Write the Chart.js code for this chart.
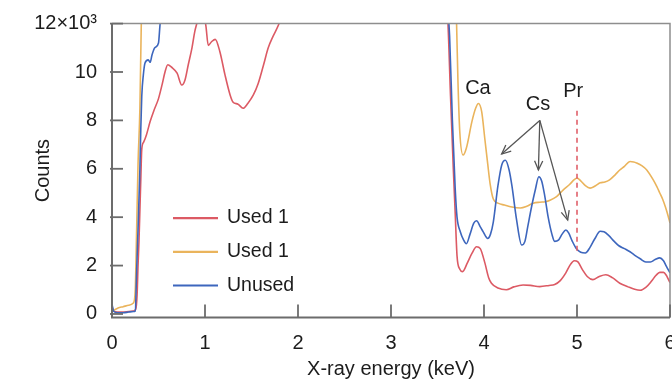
<!DOCTYPE html>
<html><head><meta charset="utf-8">
<script src="https://cdn.jsdelivr.net/npm/chart.js@4.4.1/dist/chart.umd.min.js"></script>
<style>html,body{margin:0;padding:0;background:#fff}#wrap{width:672px;height:385px;position:relative}</style>
</head><body><div id="wrap"><canvas id="c"></canvas></div>
<script>
// ---- data (x = X-ray energy in keV, y = counts in thousands) ----
const xTicks = [0, 1, 2, 3, 4, 5, 6];
const yTicks = [0, 2, 4, 6, 8, 10, 12];
const seriesLabels = ['Used 1', 'Used 1', 'Unused'];

const used1Red = [[0,0.3],[0.02,0.12],[0.06,0.08],[0.12,0.08],[0.18,0.1],[0.23,0.12],[0.255,0.2],[0.27,0.8],[0.28,2.0],[0.29,3.0],[0.30,4.3],[0.31,5.6],[0.32,6.8],[0.34,7.1],[0.37,7.4],[0.41,7.95],[0.45,8.4],[0.50,8.9],[0.54,9.5],[0.57,10.0],[0.60,10.3],[0.64,10.2],[0.70,9.95],[0.75,9.46],[0.785,9.67],[0.82,10.3],[0.86,11.0],[0.89,11.67],[0.915,12.05],[0.95,12.6],[0.98,12.5],[1.01,11.9],[1.035,11.1],[1.07,11.25],[1.11,11.35],[1.16,10.84],[1.215,9.88],[1.27,9.05],[1.30,8.76],[1.355,8.67],[1.41,8.5],[1.46,8.7],[1.52,9.05],[1.57,9.5],[1.63,10.3],[1.68,11.0],[1.73,11.46],[1.79,11.94],[1.85,12.6],[2.0,14],[2.5,16],[3.0,17],[3.4,16],[3.55,14],[3.61,12.2],[3.64,9],[3.67,6.0],[3.69,4.2],[3.71,2.4],[3.74,1.85],[3.77,1.75],[3.82,2.1],[3.87,2.5],[3.92,2.78],[3.96,2.7],[4.01,2.1],[4.05,1.5],[4.08,1.27],[4.15,1.07],[4.24,1.0],[4.32,1.12],[4.42,1.2],[4.50,1.18],[4.60,1.13],[4.70,1.18],[4.76,1.22],[4.82,1.38],[4.88,1.7],[4.93,2.05],[4.97,2.2],[5.01,2.15],[5.06,1.82],[5.11,1.55],[5.17,1.42],[5.24,1.55],[5.31,1.62],[5.38,1.5],[5.46,1.27],[5.55,1.12],[5.62,1.02],[5.68,0.98],[5.74,1.1],[5.80,1.35],[5.85,1.6],[5.89,1.72],[5.93,1.72],[5.96,1.6],[5.98,1.45],[6.0,1.3]];

const used1Orange = [[0,0.1],[0.02,0.15],[0.065,0.25],[0.12,0.3],[0.18,0.36],[0.23,0.45],[0.25,1.0],[0.265,3.5],[0.28,6.2],[0.30,8.5],[0.315,12.0],[0.33,14],[0.5,20],[1.0,24],[2.0,26],[3.0,24],[3.6,18],[3.69,13.5],[3.705,12],[3.72,9.6],[3.74,7.5],[3.775,6.57],[3.81,6.85],[3.87,7.95],[3.91,8.5],[3.94,8.7],[3.975,8.36],[4.01,7.2],[4.04,6.2],[4.065,5.4],[4.10,4.75],[4.15,4.58],[4.22,4.5],[4.30,4.42],[4.39,4.38],[4.46,4.45],[4.53,4.58],[4.60,4.62],[4.66,4.64],[4.71,4.7],[4.78,4.85],[4.85,5.12],[4.92,5.35],[4.97,5.55],[5.0,5.62],[5.04,5.5],[5.09,5.3],[5.14,5.2],[5.20,5.3],[5.25,5.42],[5.30,5.45],[5.35,5.54],[5.41,5.75],[5.46,5.95],[5.51,6.1],[5.57,6.3],[5.61,6.28],[5.64,6.24],[5.70,6.12],[5.75,5.95],[5.82,5.54],[5.86,5.25],[5.89,5.0],[5.92,4.75],[5.95,4.43],[5.98,4.05],[6.0,3.76]];

const unusedBlue = [[0,0.4],[0.02,0.1],[0.06,0.05],[0.12,0.05],[0.18,0.08],[0.23,0.1],[0.25,0.12],[0.265,1.8],[0.28,3.5],[0.30,6.0],[0.31,7.7],[0.32,9.0],[0.337,9.88],[0.355,10.37],[0.39,10.5],[0.41,10.4],[0.43,10.7],[0.46,11.0],[0.50,11.2],[0.516,11.94],[0.54,12.8],[0.6,14],[1.0,18],[2.0,20],[3.0,20],[3.5,16],[3.6,13],[3.63,11.5],[3.66,8],[3.69,5.2],[3.71,4.0],[3.745,3.4],[3.78,3.06],[3.81,2.9],[3.85,3.3],[3.89,3.75],[3.92,3.85],[3.96,3.6],[3.99,3.4],[4.04,3.12],[4.07,3.3],[4.10,3.8],[4.15,5.3],[4.19,6.15],[4.23,6.35],[4.27,5.95],[4.30,5.3],[4.35,3.9],[4.405,2.85],[4.44,3.0],[4.47,3.6],[4.51,4.4],[4.55,5.1],[4.59,5.67],[4.62,5.5],[4.65,4.95],[4.69,4.0],[4.73,3.3],[4.76,3.0],[4.80,3.05],[4.84,3.3],[4.88,3.47],[4.91,3.35],[4.95,3.0],[4.99,2.72],[5.04,2.55],[5.09,2.52],[5.14,2.75],[5.19,3.1],[5.25,3.42],[5.29,3.4],[5.34,3.25],[5.40,3.0],[5.45,2.82],[5.51,2.7],[5.57,2.57],[5.63,2.4],[5.68,2.28],[5.74,2.15],[5.79,2.15],[5.84,2.25],[5.89,2.32],[5.93,2.2],[5.96,1.98],[6.0,1.7]];

const peakLabels = [{text:'Ca', x:3.935, y:9.3}, {text:'Cs', x:4.58, y:8.64}, {text:'Pr', x:4.96, y:9.21}];
const csArrowStart = [4.60, 8.0];
const csArrowEnds = [[4.19, 6.61], [4.585, 5.95], [4.90, 3.88]];
const prMarker = {x: 5.0, from: 2.6, to: 8.4};

// ---- styling ----
const COLORS = {red:'#dc5a64', orange:'#eab45c', blue:'#3d66bd', axis:'#6c6c6c', frame:'#8e8e8e', text:'#1c1c1c', arrow:'#555555', pr:'#e0606a'};
const FONT = "'Liberation Sans', Arial, Helvetica, sans-serif";
Chart.defaults.font.family = FONT;
Chart.defaults.font.size = 20;
Chart.defaults.color = COLORS.text;

const toPts = arr => arr.map(p => ({x:p[0], y:p[1]}));

function arrow(ctx, x0, y0, x1, y1) {
  ctx.beginPath(); ctx.moveTo(x0, y0); ctx.lineTo(x1, y1); ctx.stroke();
  const ang = Math.atan2(y1 - y0, x1 - x0), L = 10, w = 0.42;
  ctx.beginPath();
  ctx.moveTo(x1 - L*Math.cos(ang - w), y1 - L*Math.sin(ang - w));
  ctx.lineTo(x1, y1);
  ctx.lineTo(x1 - L*Math.cos(ang + w), y1 - L*Math.sin(ang + w));
  ctx.stroke();
}

const decor = {
  id: 'decor',
  afterDraw(chart) {
    const {ctx, chartArea: a, scales: {x, y}} = chart;
    ctx.save();
    // Pr dashed marker
    const px = x.getPixelForValue(prMarker.x);
    ctx.strokeStyle = COLORS.pr; ctx.lineWidth = 1.6; ctx.setLineDash([5, 4]);
    ctx.beginPath(); ctx.moveTo(px, y.getPixelForValue(prMarker.to)); ctx.lineTo(px, y.getPixelForValue(prMarker.from)); ctx.stroke();
    ctx.setLineDash([]);
    // Cs arrows
    ctx.strokeStyle = COLORS.arrow; ctx.lineWidth = 1.3;
    const sx = x.getPixelForValue(csArrowStart[0]), sy = y.getPixelForValue(csArrowStart[1]);
    csArrowEnds.forEach(e => arrow(ctx, sx, sy, x.getPixelForValue(e[0]), y.getPixelForValue(e[1])));
    // peak labels
    ctx.fillStyle = COLORS.text; ctx.font = '20px ' + FONT; ctx.textAlign = 'center'; ctx.textBaseline = 'middle';
    peakLabels.forEach(l => ctx.fillText(l.text, x.getPixelForValue(l.x), y.getPixelForValue(l.y)));
    // frame
    ctx.lineWidth = 1.5; ctx.strokeStyle = COLORS.frame;
    ctx.beginPath(); ctx.moveTo(a.left, a.top); ctx.lineTo(a.right, a.top); ctx.lineTo(a.right, a.bottom); ctx.stroke();
    ctx.lineWidth = 2; ctx.strokeStyle = COLORS.axis;
    ctx.beginPath(); ctx.moveTo(a.left, a.top); ctx.lineTo(a.left, a.bottom); ctx.lineTo(a.right, a.bottom); ctx.stroke();
    // inward tick marks
    ctx.lineWidth = 1.8;
    xTicks.forEach(v => { const p = x.getPixelForValue(v); ctx.beginPath(); ctx.moveTo(p, a.bottom); ctx.lineTo(p, a.bottom - 13); ctx.stroke(); });
    yTicks.forEach(v => { const p = y.getPixelForValue(v); ctx.beginPath(); ctx.moveTo(a.left - 2, p); ctx.lineTo(a.left + 11, p); ctx.stroke(); });
    // legend (inside plot)
    const ds = chart.data.datasets;
    const legendOrder = [0, 1, 2];
    ctx.font = '19.5px ' + FONT; ctx.textAlign = 'left'; ctx.textBaseline = 'middle';
    legendOrder.forEach((i, k) => {
      const ly = a.top + 194.5 + k * 33.7;
      ctx.strokeStyle = ds[i].borderColor; ctx.lineWidth = 2.2;
      ctx.beginPath(); ctx.moveTo(a.left + 61, ly); ctx.lineTo(a.left + 106, ly); ctx.stroke();
      ctx.fillStyle = COLORS.text; ctx.fillText(ds[i].label, a.left + 115, ly);
    });
    ctx.restore();
  }
};

new Chart(document.getElementById('c'), {
  type: 'line',
  data: {
    datasets: [
      {label: seriesLabels[0], data: toPts(used1Red), borderColor: COLORS.red, order: 2},
      {label: seriesLabels[1], data: toPts(used1Orange), borderColor: COLORS.orange, order: 1},
      {label: seriesLabels[2], data: toPts(unusedBlue), borderColor: COLORS.blue, order: 0}
    ]
  },
  options: {
    responsive: true, maintainAspectRatio: false, animation: false,
    layout: {padding: {top: 23.6, left: 0, right: 2, bottom: 0}},
    datasets: {line: {borderWidth: 1.6, pointRadius: 0, fill: false, cubicInterpolationMode: 'monotone'}},
    plugins: {legend: {display: false}, tooltip: {enabled: false}},
    scales: {
      x: {
        type: 'linear', min: 0, max: 6,
        grid: {display: false}, border: {display: false},
        afterBuildTicks: s => { s.ticks = xTicks.map(v => ({value: v})); },
        afterFit: s => { s.height = 67.4; s.paddingLeft = 0; s.paddingRight = 0; },
        ticks: {padding: 5.5, maxRotation: 0, font: {size: 20}, color: COLORS.text, callback: v => String(v)},
        title: {display: true, text: 'X-ray energy (keV)', font: {size: 20}, color: COLORS.text, padding: {top: 0, bottom: 4}}
      },
      y: {
        type: 'linear', min: -0.15, max: 12,
        grid: {display: false}, border: {display: false},
        afterBuildTicks: s => { s.ticks = yTicks.map(v => ({value: v})); },
        afterFit: s => { s.width = 112; },
        ticks: {padding: 7, font: {size: 20}, color: COLORS.text, callback: v => v === 12 ? '12×10³' : String(v)},
        title: {display: true, text: 'Counts', font: {size: 20}, color: COLORS.text, padding: {top: 31, bottom: 0}}
      }
    }
  },
  plugins: [decor]
});
</script>
</body></html>
